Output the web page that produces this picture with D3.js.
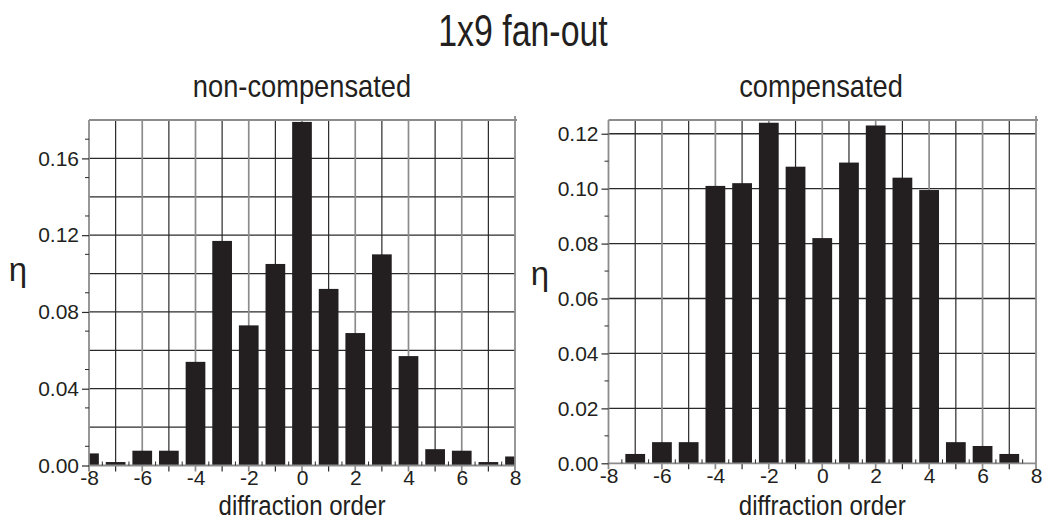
<!DOCTYPE html>
<html>
<head>
<meta charset="utf-8">
<script src="https://cdn.jsdelivr.net/npm/d3@7/dist/d3.min.js"></script>
<style>
  html, body { margin: 0; padding: 0; background: #fff; }
  svg { display: block; }
  text { font-family: "Liberation Sans", Arial, Helvetica, sans-serif; fill: #231f20; }
</style>
</head>
<body>
<svg id="chart" width="1047" height="529"></svg>
<script>
// ---- data ----
const orders = [-8, -7, -6, -5, -4, -3, -2, -1, 0, 1, 2, 3, 4, 5, 6, 7, 8];
const nonCompensated = [0.0063, 0.0018, 0.0077, 0.0077, 0.054, 0.117, 0.073, 0.105, 0.179, 0.092, 0.069, 0.110, 0.057, 0.0085, 0.0077, 0.0018, 0.0047];
const compensated = [0, 0.0034, 0.0077, 0.0077, 0.101, 0.102, 0.124, 0.108, 0.082, 0.1095, 0.123, 0.104, 0.0995, 0.0077, 0.0063, 0.0034, 0];
const xTickLabels = [-8, -6, -4, -2, 0, 2, 4, 6, 8];
const leftYTicks = [0.00, 0.04, 0.08, 0.12, 0.16];
const rightYTicks = [0.00, 0.02, 0.04, 0.06, 0.08, 0.10, 0.12];
const titleText = "1x9 fan-out";
const panelTitles = ["non-compensated", "compensated"];
const xLabel = "diffraction order";
const yLabel = "η";

const svg = d3.select("#chart");
const ink = "#231f20";
const grayLine = "#8c8c8c";
const darkLine = "#2a2a2a";

svg.append("text")
  .attr("x", 0).attr("y", 0)
  .attr("transform", "translate(523,46) scale(0.77,1)")
  .attr("text-anchor", "middle")
  .attr("font-size", 44)
  .text(titleText);

const panels = [
  { title: panelTitles[0], values: nonCompensated, x0: 89, x1: 515, yTop: 120, yZero: 465.5, yMax: 0.18,
    labelTicks: leftYTicks, gridStep: 0.02, titleX: 302, etaX: 18, etaY: 281, id: "l" },
  { title: panelTitles[1], values: compensated, x0: 608.5, x1: 1036, yTop: 120, yZero: 463.3, yMax: 0.125,
    labelTicks: rightYTicks, gridStep: 0.02, titleX: 821, etaX: 540, etaY: 285, id: "r" }
];

panels.forEach(p => {
  const x = d3.scaleLinear().domain([-8, 8]).range([p.x0, p.x1]);
  const y = d3.scaleLinear().domain([0, p.yMax]).range([p.yZero, p.yTop]);
  const g = svg.append("g");

  // panel title
  g.append("text")
    .attr("transform", `translate(${p.titleX},97) scale(0.88,1)`)
    .attr("text-anchor", "middle").attr("font-size", 31)
    .text(p.title);

  // horizontal grid
  const nH = Math.round(p.yMax / p.gridStep);
  const hVals = d3.range(1, nH + 1).map(i => +(i * p.gridStep).toFixed(3)).filter(v => v <= p.yMax);
  g.selectAll("line.hg").data(hVals).join("line")
    .attr("x1", p.x0).attr("x2", p.x1)
    .attr("y1", d => y(d)).attr("y2", d => y(d))
    .attr("stroke", darkLine).attr("stroke-width", 1.3);

  // vertical grid (integer orders), extending below the axis as ticks
  const vVals = d3.range(-7, 8);
  g.selectAll("line.vg").data(vVals).join("line")
    .attr("x1", d => x(d)).attr("x2", d => x(d))
    .attr("y1", p.yTop).attr("y2", p.yZero + 6)
    .attr("stroke", d => (d % 2 === 0 ? grayLine : darkLine))
    .attr("stroke-width", d => (d % 2 === 0 ? 1.7 : 1.2));

  // bars (clipped to plot area)
  const clipId = "clip-" + p.id;
  svg.append("clipPath").attr("id", clipId)
    .append("rect").attr("x", p.x0).attr("y", p.yTop - 5)
    .attr("width", p.x1 - p.x0).attr("height", p.yZero - p.yTop + 5);
  const bw = 0.74;
  g.append("g").attr("clip-path", `url(#${clipId})`)
    .selectAll("rect").data(orders.map((o, i) => ({ o, v: p.values[i] })).filter(d => d.v > 0))
    .join("rect")
    .attr("x", d => x(d.o - bw / 2))
    .attr("width", d => x(d.o + bw / 2) - x(d.o - bw / 2))
    .attr("y", d => y(d.v))
    .attr("height", d => p.yZero - y(d.v))
    .attr("fill", ink);

  // frame: left, bottom, top, right
  g.append("line").attr("x1", p.x0).attr("x2", p.x0).attr("y1", p.yTop).attr("y2", p.yZero + 6)
    .attr("stroke", grayLine).attr("stroke-width", 1.8);
  g.append("line").attr("x1", p.x1).attr("x2", p.x1).attr("y1", p.yTop - 4).attr("y2", p.yZero + 6)
    .attr("stroke", grayLine).attr("stroke-width", 1.8);
  g.append("line").attr("x1", p.x0).attr("x2", p.x1 + 2).attr("y1", p.yTop).attr("y2", p.yTop)
    .attr("stroke", grayLine).attr("stroke-width", 1.8);
  g.append("line").attr("x1", p.x0).attr("x2", p.x1).attr("y1", p.yZero).attr("y2", p.yZero)
    .attr("stroke", grayLine).attr("stroke-width", 1.8);

  // half-integer minor ticks pointing up
  const halfVals = d3.range(-7.5, 8, 1);
  g.selectAll("line.ht").data(halfVals).join("line")
    .attr("x1", d => x(d)).attr("x2", d => x(d))
    .attr("y1", p.yZero).attr("y2", p.yZero - 4)
    .attr("stroke", darkLine).attr("stroke-width", 1);

  // y minor ticks (odd hundredths) pointing left
  const nMinor = Math.floor(p.yMax / 0.01 + 1e-6);
  const minorY = d3.range(1, nMinor + 1, 2).map(i => +(i * 0.01).toFixed(3));
  g.selectAll("line.ym").data(minorY).join("line")
    .attr("x1", p.x0 - 4).attr("x2", p.x0)
    .attr("y1", d => y(d)).attr("y2", d => y(d))
    .attr("stroke", darkLine).attr("stroke-width", 1);

  // y axis labels via d3 axis
  const yAxis = d3.axisLeft(y).tickValues(p.labelTicks).tickFormat(d3.format(".2f"))
    .tickSizeInner(7).tickSizeOuter(0).tickPadding(3);
  const ya = g.append("g").attr("transform", `translate(${p.x0},0)`).call(yAxis);
  ya.select(".domain").remove();
  ya.selectAll(".tick line").attr("stroke", darkLine).attr("stroke-width", 1.2);
  ya.selectAll(".tick text").attr("font-size", 21).attr("fill", ink)
    .attr("font-family", "Liberation Sans, Arial, sans-serif");

  // x axis labels via d3 axis
  const xAxis = d3.axisBottom(x).tickValues(xTickLabels).tickFormat(d => d)
    .tickSize(0).tickPadding(5);
  const xa = g.append("g").attr("transform", `translate(0,${p.yZero})`).call(xAxis);
  xa.select(".domain").remove();
  xa.selectAll(".tick text").attr("font-size", 21).attr("fill", ink)
    .attr("font-family", "Liberation Sans, Arial, sans-serif")
    .text(d => (d < 0 ? "-" + Math.abs(d) : String(d)));

  // x label
  g.append("text")
    .attr("transform", `translate(${(p.x0 + p.x1) / 2},515) scale(0.86,1)`)
    .attr("text-anchor", "middle").attr("font-size", 28)
    .text(xLabel);

  // y label
  g.append("text")
    .attr("x", p.etaX).attr("y", p.etaY)
    .attr("text-anchor", "middle").attr("font-size", 33)
    .text(yLabel);
});
</script>
</body>
</html>
